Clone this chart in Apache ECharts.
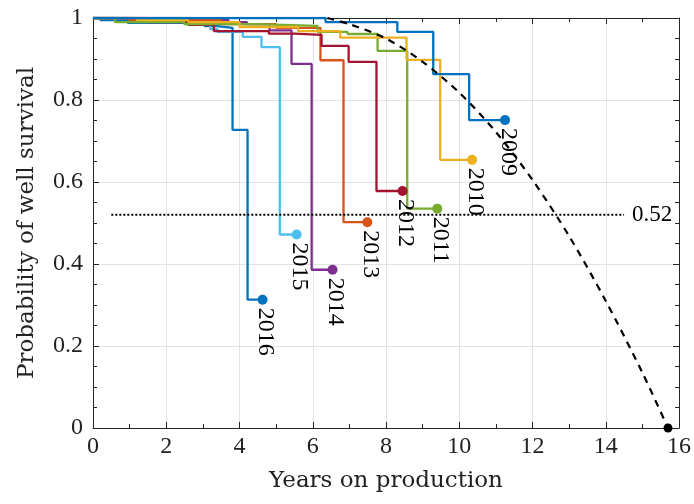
<!DOCTYPE html>
<html><head><meta charset="utf-8">
<script src="https://cdn.jsdelivr.net/npm/echarts@6/dist/echarts.min.js"></script>
<style>html,body{margin:0;padding:0;background:#fff}#c{width:694px;height:504px}</style>
</head><body><div id="c"></div>
<script>
// ---- data ----
const years = ['2009', '2010', '2011', '2012', '2013', '2014', '2015', '2016'];
const colors = ['#0072BD', '#EDB120', '#77AC30', '#A2142F', '#D95319', '#7E2F8E', '#4DBEEE', '#0072BD'];

const t2009 = [0, 6.35, 8.31, 9.29, 10.27, 11.25];
const s2009 = [1.0, 0.99, 0.966, 0.863, 0.751, 0.751];
const t2010 = [0, 1.2, 2.6, 4.0, 5.6, 6.75, 8.56, 9.48, 10.35];
const s2010 = [1.0, 0.995, 0.99, 0.978, 0.968, 0.952, 0.898, 0.654, 0.654];
const t2011 = [0, 0.6, 2.5, 4.5, 6.13, 6.95, 7.77, 8.58, 9.40];
const s2011 = [1.0, 0.99, 0.985, 0.981, 0.966, 0.961, 0.92, 0.535, 0.535];
const t2012 = [0, 1.5, 2.6, 3.3, 4.8, 5.5, 6.24, 6.98, 7.74, 8.45];
const s2012 = [1.0, 0.99, 0.983, 0.968, 0.962, 0.959, 0.932, 0.893, 0.578, 0.578];
const t2013 = [0, 1.0, 3.5, 5.0, 6.21, 6.84, 7.49];
const s2013 = [1.0, 0.995, 0.985, 0.976, 0.897, 0.502, 0.502];
const t2014 = [0, 2.7, 3.7, 4.2, 4.82, 5.42, 5.97, 6.54];
const s2014 = [1.0, 0.995, 0.99, 0.985, 0.97, 0.888, 0.386, 0.386];
const t2015 = [0, 0.5, 2.5, 3.2, 3.4, 4.09, 4.6, 5.1, 5.56];
const s2015 = [1.0, 0.998, 0.985, 0.973, 0.966, 0.954, 0.929, 0.472, 0.472];
const t2016 = [0, 0.2, 0.95, 3.05, 3.4, 3.81, 4.22, 4.63];
const s2016 = [1.0, 0.995, 0.988, 0.98, 0.976, 0.727, 0.313, 0.313];

const times = [t2009, t2010, t2011, t2012, t2013, t2014, t2015, t2016];
const survival = [s2009, s2010, s2011, s2012, s2013, s2014, s2015, s2016];

// dashed trend curve
const trendX = [6.4, 7, 8, 9, 10, 11, 12, 13, 14, 15, 15.7];
const trendY = [1.0, 0.985, 0.95, 0.893, 0.818, 0.722, 0.605, 0.468, 0.31, 0.135, 0.0];

// reference level
const refLevel = 0.52;
const refX = [0.5, 14.5];
const refLabel = '0.52';

const xTitle = 'Years on production';
const yTitle = 'Probability of well survival';

// ---- chart ----
const numFont = 'Liberation Serif';
const titleFont = 'DejaVu Serif';
const axisCol = '#262626';

function zip(a, b) { return a.map((v, i) => [v, b[i]]); }

const series = [];
years.forEach((y, i) => {
  series.push({
    type: 'line', step: 'end', data: zip(times[i], survival[i]),
    symbol: 'none', lineStyle: { width: 2.3, color: colors[i] }, color: colors[i],
    xAxisIndex: 0, yAxisIndex: 0, z: 3 + (years.length - i)
  });
});
years.forEach((y, i) => {
  const n = times[i].length - 1;
  series.push({
    type: 'scatter', symbolSize: 10, color: colors[i], z: 20,
    itemStyle: { opacity: 1 },
    data: [[times[i][n], survival[i][n]]],
    label: {
      show: true, formatter: y, rotate: -90, position: [8, 13],
      align: 'left', verticalAlign: 'middle',
      fontFamily: numFont, fontSize: 24, color: '#000'
    }
  });
});
series.push({
  type: 'line', data: zip(trendX, trendY), smooth: 0.3, symbol: 'none',
  lineStyle: { width: 2.2, color: '#000', type: [7, 6] }, z: 15
});
series.push({
  type: 'scatter', symbolSize: 9, color: '#000', z: 21, clip: false,
  itemStyle: { opacity: 1 },
  data: [[trendX[trendX.length - 1], trendY[trendY.length - 1]]]
});
series.push({
  type: 'line', data: refX.map(x => [x, refLevel]), symbol: 'none',
  lineStyle: { width: 2, color: '#000', type: [2, 2] }, z: 14,
  endLabel: { show: true, formatter: refLabel, distance: 8, fontFamily: numFont, fontSize: 23, color: '#000' }
});

const baseTick = { show: true, inside: true, length: 6, lineStyle: { color: axisCol } };
const minorTick = { show: true, length: 4, lineStyle: { color: axisCol } };

const option = {
  animation: false,
  backgroundColor: '#fff',
  grid: { left: 93, right: 14, top: 18, bottom: 76 },
  xAxis: [{
    type: 'value', min: 0, max: 16, interval: 2,
    name: xTitle, nameLocation: 'middle', nameGap: 42,
    nameTextStyle: { fontFamily: titleFont, fontSize: 23, color: '#222' },
    axisLine: { show: true, onZero: false, lineStyle: { color: axisCol, width: 1 } },
    axisTick: baseTick, minorTick: Object.assign({ splitNumber: 2 }, minorTick),
    axisLabel: { fontFamily: numFont, fontSize: 24, color: '#222', margin: 7 },
    splitLine: { show: true, lineStyle: { color: '#e3e3e3', width: 1 } }
  }, {
    type: 'value', min: 0, max: 16, interval: 2, position: 'top',
    axisLine: { show: true, onZero: false, lineStyle: { color: axisCol, width: 1 } },
    axisTick: baseTick, minorTick: Object.assign({ splitNumber: 2 }, minorTick),
    axisLabel: { show: false }, splitLine: { show: false }
  }],
  yAxis: [{
    type: 'value', min: 0, max: 1, interval: 0.2,
    name: yTitle, nameLocation: 'middle', nameGap: 54,
    nameTextStyle: { fontFamily: titleFont, fontSize: 23, color: '#222' },
    axisLine: { show: true, onZero: false, lineStyle: { color: axisCol, width: 1 } },
    axisTick: baseTick, minorTick: Object.assign({ splitNumber: 4 }, minorTick),
    axisLabel: { fontFamily: numFont, fontSize: 24, color: '#222', margin: 10,
      formatter: v => (v === 0 || v === 1) ? String(v) : v.toFixed(1) },
    splitLine: { show: true, lineStyle: { color: '#e3e3e3', width: 1 } }
  }, {
    type: 'value', min: 0, max: 1, interval: 0.2, position: 'right',
    axisLine: { show: true, onZero: false, lineStyle: { color: axisCol, width: 1 } },
    axisTick: baseTick, minorTick: Object.assign({ splitNumber: 4 }, minorTick),
    axisLabel: { show: false }, splitLine: { show: false }
  }],
  series: series
};

const chart = echarts.init(document.getElementById('c'), null, { renderer: 'canvas' });
chart.setOption(option);
</script>
</body></html>
